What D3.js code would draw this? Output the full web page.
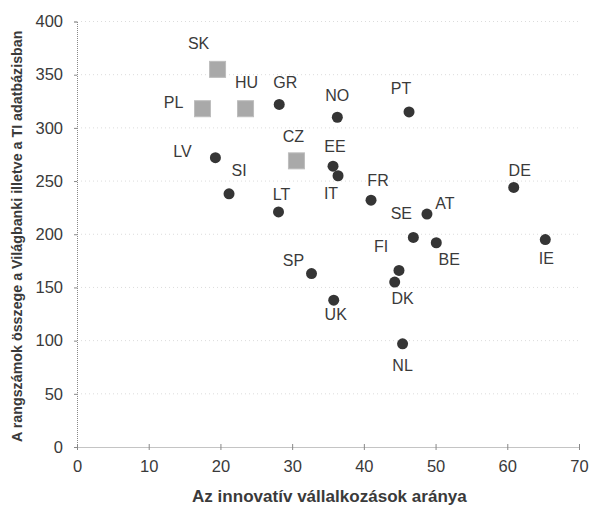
<!DOCTYPE html>
<html>
<head>
<meta charset="utf-8">
<script src="https://cdn.jsdelivr.net/npm/d3@7"></script>
<style>
  body { margin: 0; background: #fff; }
  svg { display: block; font-family: "Liberation Sans", Arial, sans-serif; }
</style>
</head>
<body>
<div id="chart"></div>
<script>
// data
const countries = ["SK", "PL", "HU", "GR", "NO", "PT", "CZ", "LV", "SI", "EE", "IT", "LT",
                   "FR", "DE", "AT", "SE", "BE", "FI", "DK", "SP", "UK", "NL", "IE"]
const innovShare = [19.6, 17.5, 23.5, 28.2, 36.3, 46.3, 30.6, 19.3, 21.2, 35.7, 36.4, 28.1,
                    41.0, 60.9, 48.8, 46.9, 50.1, 44.9, 44.3, 32.7, 35.8, 45.4, 65.3]
const rankSum = [355, 318, 318, 322, 310, 315, 269, 272, 238, 264, 255, 221,
                 232, 244, 219, 197, 192, 166, 155, 163, 138, 97, 195]
const marker = ["square", "square", "square", "circle", "circle", "circle", "square", "circle",
                "circle", "circle", "circle", "circle", "circle", "circle", "circle", "circle",
                "circle", "circle", "circle", "circle", "circle", "circle", "circle"]
const xTicks = [0, 10, 20, 30, 40, 50, 60, 70]
const yTicks = [0, 50, 100, 150, 200, 250, 300, 350, 400]

// label placement (pixel offsets from the marker), layout only
const labelDx = [-19, -29, 1, 6, 0, -8, -3, -33, 10, 2, -7, 3, 7, 6, 18, -12, 13, -18, 8, -18, 2, 0, 1]
const labelDy = [-26, -6, -26, -22, -22, -24, -25, -6, -24, -20, 17, -18, -20, -17, -11, -24, 16, -24, 16, -13, 14, 21, 19]

const width = 589
const height = 506

const svg = d3.select("#chart")
    .append("svg")
    .attr("width", width)
    .attr("height", height)

const x = d3.scaleLinear().domain([0, 70]).range([77, 579])
const y = d3.scaleLinear().domain([0, 400]).range([447, 21.5])

const textColor = "#3a3a3a"

// faint horizontal gridlines
svg.append("g")
    .selectAll("line")
    .data(yTicks.filter(d => d > 0))
    .enter()
    .append("line")
    .attr("x1", x(0))
    .attr("x2", x(70))
    .attr("y1", d => y(d))
    .attr("y2", d => y(d))
    .style("stroke", "#dcdcdc")
    .style("stroke-dasharray", "1,3")

// y axis
const yAxis = svg.append("g")
    .attr("transform", "translate(" + x(0) + ",0)")
    .call(d3.axisLeft(y).tickValues(yTicks).tickSize(3).tickPadding(11))
yAxis.select(".domain").style("stroke", "#888").style("stroke-dasharray", "1,1")
yAxis.selectAll(".tick line").style("stroke", "#888")
yAxis.selectAll("text")
    .style("font-size", "16.5px")
    .style("fill", textColor)
    .style("font-family", "Liberation Sans, Arial, sans-serif")

// x axis
const xAxis = svg.append("g")
    .attr("transform", "translate(0," + y(0) + ")")
    .call(d3.axisBottom(x).tickValues(xTicks).tickSizeInner(3).tickSizeOuter(0).tickPadding(10))
xAxis.select(".domain").style("stroke", "#888").style("stroke-dasharray", "1,1")
xAxis.selectAll(".tick line").attr("y1", -3).style("stroke", "#888")
xAxis.selectAll("text")
    .style("font-size", "16.5px")
    .style("fill", textColor)
    .style("font-family", "Liberation Sans, Arial, sans-serif")

// axis titles, font size fitted to the span they take in the picture
function fitText(sel, span) {
    const len = sel.node().getComputedTextLength()
    const size = 13 * span / len
    sel.style("font-size", size + "px")
}

const xTitle = svg.append("text")
    .attr("x", 192)
    .attr("y", 502)
    .text("Az innovatív vállalkozások aránya")
    .style("font-size", "13px")
    .style("font-weight", "bold")
    .style("fill", textColor)
    .style("text-anchor", "start")
fitText(xTitle, 275)

const yTitle = svg.append("text")
    .attr("transform", "translate(22,442) rotate(-90)")
    .text("A rangszámok összege a Világbanki illetve a TI adatbázisban")
    .style("font-size", "13px")
    .style("font-weight", "bold")
    .style("fill", textColor)
    .style("text-anchor", "start")
fitText(yTitle, 412)

const idx = d3.range(countries.length)

// square markers
svg.append("g")
    .selectAll("rect")
    .data(idx.filter(i => marker[i] === "square"))
    .enter()
    .append("rect")
    .attr("x", i => x(innovShare[i]) - 8)
    .attr("y", i => y(rankSum[i]) - 8)
    .attr("width", 16)
    .attr("height", 16)
    .style("fill", "#a9a9a9")
    .style("stroke", "#bdbdbd")
    .style("stroke-width", 1)

// circle markers
svg.append("g")
    .selectAll("circle")
    .data(idx.filter(i => marker[i] === "circle"))
    .enter()
    .append("circle")
    .attr("cx", i => x(innovShare[i]))
    .attr("cy", i => y(rankSum[i]))
    .attr("r", 5.5)
    .style("fill", "#353535")

// country labels
svg.append("g")
    .selectAll("text")
    .data(idx)
    .enter()
    .append("text")
    .attr("x", i => x(innovShare[i]) + labelDx[i])
    .attr("y", i => y(rankSum[i]) + labelDy[i])
    .attr("dy", "0.36em")
    .text(i => countries[i])
    .style("font-size", "16px")
    .style("fill", textColor)
    .style("text-anchor", "middle")
</script>
</body>
</html>
